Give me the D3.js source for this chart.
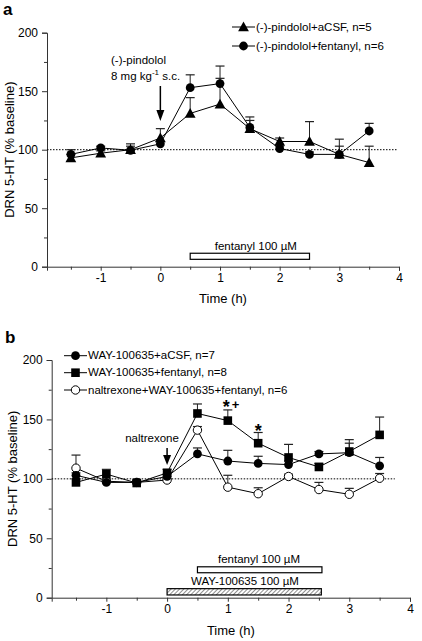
<!DOCTYPE html>
<html><head><meta charset="utf-8">
<script src="https://cdn.jsdelivr.net/npm/d3@7"></script>
<style>
html,body{margin:0;padding:0;background:#fff;}
svg text{font-family:"Liberation Sans",Arial,sans-serif;fill:#000;}
</style></head>
<body>
<svg id="chart" width="422" height="641"></svg>
<script>
// ---------- DATA ----------
const times = [-1.5, -1, -0.5, 0, 0.5, 1, 1.5, 2, 2.5, 3, 3.5];

// Panel a
const pindololACSF     = [93, 97, 100, 110, 131, 139, 118, 107, 107, 96, 89];
const pindololACSFErr  = [3, 2, 5, 8, 13.5, 22, 7, 3, 17, 13, 14];
const pindololFent     = [96, 101.5, 99.5, 105, 153, 156.5, 119, 101, 96, 96, 116];
const pindololFentErr  = [4, 1.5, 3.5, 2, 11, 15, 9, 2, 2, 7, 6.5];
const legendA = ["(-)-pindolol+aCSF, n=5", "(-)-pindolol+fentanyl, n=6"];

// Panel b
const wayACSF      = [103, 97, 97, 102, 121, 115, 113, 112, 121, 122, 111];
const wayACSFErr   = [2, 2, 2, 2, 5, 9, 6, 3, 2, 8, 7];
const wayFent      = [97, 104, 96.5, 105, 155, 149, 130, 118, 110, 123, 137];
const wayFentErr   = [3, 4, 2, 3, 8, 9, 9, 11, 3, 10, 15];
const naltrexWay   = [109, 98, 97, 99, 141, 93, 87.5, 102, 91, 87, 100.5];
const naltrexWayErr= [11, 2, 1, 1, 3, 10, 5, 2, 6, 5, 4];
const legendB = ["WAY-100635+aCSF, n=7", "WAY-100635+fentanyl, n=8", "naltrexone+WAY-100635+fentanyl, n=6"];

const xMajorTicks = [-1, 0, 1, 2, 3, 4];
const xMinorTicks = [-1.5, -0.5, 0.5, 1.5, 2.5, 3.5];
const yMajorTicks = [0, 50, 100, 150, 200];
const yMinorTicks = [25, 75, 125, 175];
const xDomain = [-1.9, 4];
const yDomain = [0, 200];

// ---------- DRAW ----------
const svg = d3.select("#chart");
const defs = svg.append("defs");
const pat = defs.append("pattern").attr("id","hatch").attr("patternUnits","userSpaceOnUse")
  .attr("width",3).attr("height",3).attr("patternTransform","rotate(45)");
pat.append("rect").attr("width",3).attr("height",3).attr("fill","#fff");
pat.append("line").attr("x1",0).attr("y1",0).attr("x2",0).attr("y2",3).attr("stroke","#444").attr("stroke-width",1.2);

function symbolPath(kind, cx, cy){
  if(kind==="tri"){ const s=5.4; return `M${cx},${cy-s}L${cx+s},${cy+s*0.8}L${cx-s},${cy+s*0.8}Z`; }
  if(kind==="sq"){ const s=4.3; return `M${cx-s},${cy-s}h${2*s}v${2*s}h${-2*s}Z`; }
  return null;
}
function drawMarker(g, kind, cx, cy){
  if(kind==="tri"||kind==="sq"){
    g.append("path").attr("d",symbolPath(kind,cx,cy)).attr("fill","#000");
  } else if(kind==="circ"){
    g.append("circle").attr("cx",cx).attr("cy",cy).attr("r",4.4).attr("fill","#000");
  } else {
    g.append("circle").attr("cx",cx).attr("cy",cy).attr("r",4.2).attr("fill","#fff").attr("stroke","#000").attr("stroke-width",1);
  }
}
const fmt = d => String(d);

function panel(cfg){
  const x = d3.scaleLinear().domain(xDomain).range(cfg.xRange);
  const y = d3.scaleLinear().domain(yDomain).range(cfg.yRange);
  const g = svg.append("g");
  const axisColor = "#333";

  const ya = g.append("g").attr("transform",`translate(${cfg.xRange[0]},0)`)
    .call(d3.axisLeft(y).tickValues(yMajorTicks).tickSize(5).tickPadding(4).tickFormat(fmt));
  ya.selectAll("text").style("font-size","12px");
  g.append("g").attr("transform",`translate(${cfg.xRange[0]},0)`)
    .call(d3.axisLeft(y).tickValues(yMinorTicks).tickSize(3).tickFormat("")).select(".domain").remove();
  const xa = g.append("g").attr("transform",`translate(0,${cfg.yRange[0]})`)
    .call(d3.axisBottom(x).tickValues(xMajorTicks).tickSize(4).tickPadding(3).tickFormat(fmt));
  xa.selectAll("text").style("font-size","12px");
  g.append("g").attr("transform",`translate(0,${cfg.yRange[0]})`)
    .call(d3.axisBottom(x).tickValues(xMinorTicks).tickSize(3).tickFormat("")).select(".domain").remove();
  g.selectAll(".domain, .tick line").attr("stroke",axisColor);

  g.append("text").attr("x",(cfg.xRange[0]+cfg.xRange[1])/2).attr("y",cfg.xTitleY)
    .attr("text-anchor","middle").style("font-size","13px").text("Time (h)");
  g.append("text").attr("transform",`translate(${cfg.yTitleX},${(cfg.yRange[0]+cfg.yRange[1])/2}) rotate(-90)`)
    .attr("text-anchor","middle").style("font-size","13px").text("DRN 5-HT (% baseline)");
  g.append("text").attr("x",cfg.letterX).attr("y",cfg.letterY).style("font-size","17px").style("font-weight","bold").text(cfg.letter);

  g.append("line").attr("x1",x(xDomain[0])).attr("x2",x(cfg.dotEnd)).attr("y1",y(100)).attr("y2",y(100))
    .attr("stroke","#000").attr("stroke-width",1).attr("stroke-dasharray","1.5,1.5");

  cfg.series.forEach(s=>{
    const line = d3.line().x((d,i)=>x(times[i])).y(d=>y(d));
    g.append("path").datum(s.values).attr("d",line).attr("fill","none").attr("stroke","#000").attr("stroke-width",1);
    s.values.forEach((v,i)=>{
      const top = v + s.err[i];
      g.append("line").attr("x1",x(times[i])).attr("x2",x(times[i])).attr("y1",y(v)).attr("y2",y(top)).attr("stroke","#222").attr("stroke-width",1);
      g.append("line").attr("x1",x(times[i])-4.5).attr("x2",x(times[i])+4.5).attr("y1",y(top)).attr("y2",y(top)).attr("stroke","#222").attr("stroke-width",1.2);
    });
  });
  cfg.series.forEach(s=>{
    s.values.forEach((v,i)=>drawMarker(g, s.kind, x(times[i]), y(v)));
  });

  cfg.legend.forEach((L,i)=>{
    const cy = cfg.legY[i];
    g.append("line").attr("x1",cfg.legX[0]).attr("x2",cfg.legX[1]).attr("y1",cy).attr("y2",cy).attr("stroke","#000");
    drawMarker(g, L.kind, (cfg.legX[0]+cfg.legX[1])/2, cy);
    g.append("text").attr("x",cfg.legX[1]+1).attr("y",cy+3.5).style("font-size","11.5px").text(L.label);
  });
  return {g,x,y};
}

// ---- Panel a
const A = panel({
  letter:"a", letterX:3, letterY:15,
  xRange:[47,399], yRange:[266.7,32.7], xTitleY:303, yTitleX:14, dotEnd:3.97,
  series:[
    {kind:"tri", values:pindololACSF, err:pindololACSFErr},
    {kind:"circ", values:pindololFent, err:pindololFentErr}
  ],
  legend:[{kind:"tri",label:legendA[0]},{kind:"circ",label:legendA[1]}],
  legX:[232,255], legY:[27,46]
});
A.g.append("rect").attr("x",A.x(0.5)).attr("y",A.y(11.5)).attr("width",A.x(2.5)-A.x(0.5)).attr("height",A.y(6.3)-A.y(11.5))
  .attr("fill","#fff").attr("stroke","#000").attr("stroke-width",1.2);
A.g.append("text").attr("x",A.x(1.6)).attr("y",250).attr("text-anchor","middle").style("font-size","11.5px").text("fentanyl 100 \u00B5M");
A.g.append("text").attr("x",111).attr("y",64).style("font-size","11.5px").text("(-)-pindolol");
const ann2 = A.g.append("text").attr("x",111).attr("y",80).style("font-size","11.5px");
ann2.append("tspan").text("8 mg kg");
ann2.append("tspan").attr("dy",-5).style("font-size","8px").text("-1");
ann2.append("tspan").attr("dy",5).text(" s.c.");
A.g.append("line").attr("x1",A.x(0)).attr("x2",A.x(0)).attr("y1",86).attr("y2",112).attr("stroke","#000").attr("stroke-width",1.5);
A.g.append("path").attr("d",`M${A.x(0)-4},110L${A.x(0)+4},110L${A.x(0)},121Z`).attr("fill","#000");

// ---- Panel b
const B = panel({
  letter:"b", letterX:5, letterY:343,
  xRange:[51.7,410], yRange:[597.7,360], xTitleY:635, yTitleX:17, dotEnd:3.75,
  series:[
    {kind:"open", values:naltrexWay, err:naltrexWayErr},
    {kind:"circ", values:wayACSF, err:wayACSFErr},
    {kind:"sq", values:wayFent, err:wayFentErr}
  ],
  legend:[{kind:"circ",label:legendB[0]},{kind:"sq",label:legendB[1]},{kind:"open",label:legendB[2]}],
  legX:[64,87], legY:[355.7,372.7,390]
});
B.g.append("rect").attr("x",B.x(0.5)).attr("y",B.y(26)).attr("width",B.x(2.55)-B.x(0.5)).attr("height",B.y(21)-B.y(26))
  .attr("fill","#fff").attr("stroke","#000").attr("stroke-width",1.2);
B.g.append("text").attr("x",259).attr("y",562.7).attr("text-anchor","middle").style("font-size","11.5px").text("fentanyl 100  \u00B5M");
B.g.append("rect").attr("x",B.x(0)).attr("y",B.y(7.6)).attr("width",B.x(2.54)-B.x(0)).attr("height",B.y(2.3)-B.y(7.6))
  .attr("fill","url(#hatch)").attr("stroke","#000").attr("stroke-width",1.2);
B.g.append("text").attr("x",245).attr("y",585).attr("text-anchor","middle").style("font-size","11.5px").text("WAY-100635 100  \u00B5M");
B.g.append("text").attr("x",152).attr("y",442).attr("text-anchor","middle").style("font-size","11.5px").text("naltrexone");
B.g.append("line").attr("x1",B.x(0)).attr("x2",B.x(0)).attr("y1",448).attr("y2",456).attr("stroke","#000").attr("stroke-width",1.5);
B.g.append("path").attr("d",`M${B.x(0)-4},455L${B.x(0)+4},455L${B.x(0)},465Z`).attr("fill","#000");
// significance marks
const sig1 = B.g.append("text").attr("x",B.x(1)-5).attr("y",413).style("font-weight","bold");
sig1.append("tspan").style("font-size","18px").text("*");
sig1.append("tspan").attr("dx",2).attr("dy",-4.5).style("font-size","13px").text("+");
B.g.append("text").attr("x",B.x(1.5)).attr("y",437).attr("text-anchor","middle").style("font-size","18px").style("font-weight","bold").text("*");
</script>
</body></html>
